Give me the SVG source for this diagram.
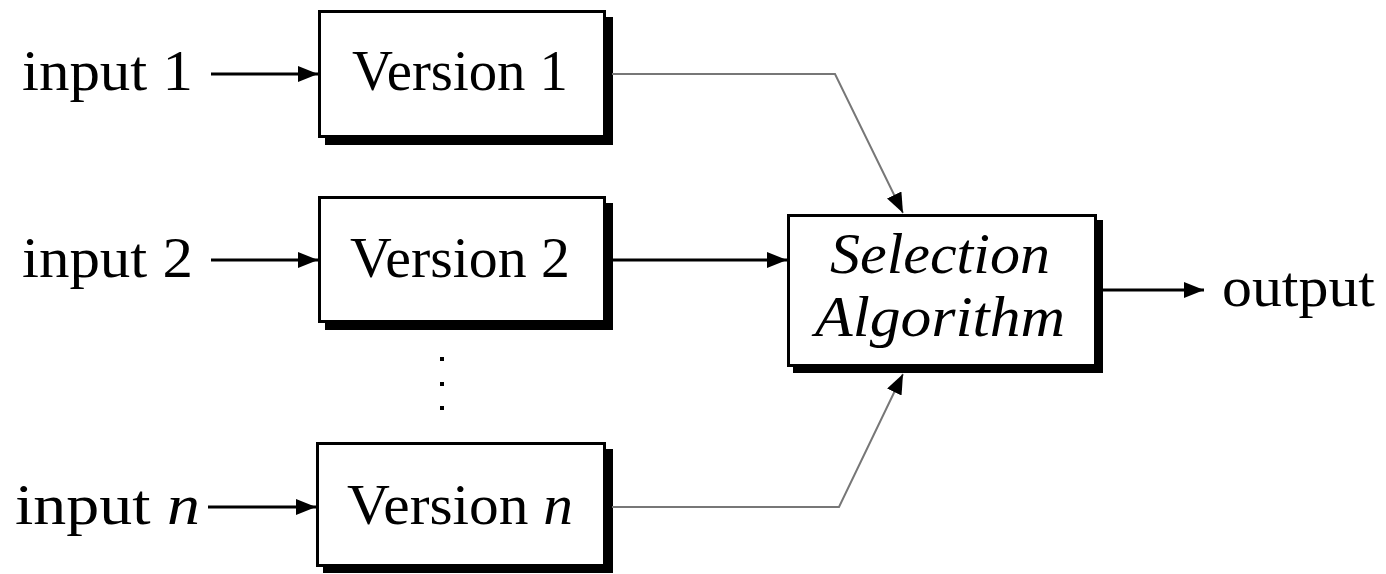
<svg xmlns="http://www.w3.org/2000/svg" width="1386" height="574" viewBox="0 0 1386 574">
  <style>
    .t { font-family: "Liberation Serif", "Times New Roman", serif; font-size: 57px; fill: #000; }
    .it { font-style: italic; }
    .box { fill: #fff; stroke: #000; stroke-width: 3; }
    .shadow { fill: #000; }
    .blk { stroke: #000; stroke-width: 3; fill: none; }
    .gry { stroke: #777; stroke-width: 2; fill: none; }
  </style>
  <defs>
    <marker id="ah" markerUnits="userSpaceOnUse" markerWidth="22" markerHeight="18" refX="20" refY="8" orient="auto">
      <path d="M0,0 L20,8 L0,16 z" fill="#000"/>
    </marker>
  </defs>
  <rect width="1386" height="574" fill="#fff"/>

  <g id="input1">
    <text class="t" x="22" y="90" textLength="171" lengthAdjust="spacingAndGlyphs">input 1</text>
  </g>
  <g id="input2">
    <text class="t" x="22" y="277" textLength="171" lengthAdjust="spacingAndGlyphs">input 2</text>
  </g>
  <g id="inputn">
    <text class="t" x="15" y="524" textLength="185" lengthAdjust="spacingAndGlyphs">input <tspan class="it">n</tspan></text>
  </g>

  <g id="version1">
    <rect class="shadow" x="325" y="17" width="288" height="128"/>
    <rect class="box" x="319.5" y="11.5" width="285" height="125"/>
    <text class="t" x="460" y="90" text-anchor="middle" textLength="216" lengthAdjust="spacingAndGlyphs">Version 1</text>
  </g>
  <g id="version2">
    <rect class="shadow" x="325" y="203" width="288" height="127"/>
    <rect class="box" x="319.5" y="197.5" width="285" height="124"/>
    <text class="t" x="460" y="277" text-anchor="middle" textLength="220" lengthAdjust="spacingAndGlyphs">Version 2</text>
  </g>
  <g id="dots">
    <rect x="440" y="357" width="4" height="4"/>
    <rect x="440" y="382" width="4" height="4"/>
    <rect x="440" y="406" width="4" height="4"/>
  </g>
  <g id="versionn">
    <rect class="shadow" x="323" y="449" width="290" height="124"/>
    <rect class="box" x="317.5" y="443.5" width="287" height="122"/>
    <text class="t" x="460" y="524" text-anchor="middle" textLength="226" lengthAdjust="spacingAndGlyphs">Version <tspan class="it">n</tspan></text>
  </g>
  <g id="selection">
    <rect class="shadow" x="793" y="220" width="310" height="153"/>
    <rect class="box" x="788.5" y="215.5" width="307" height="150"/>
    <text class="t it" x="940" y="273" text-anchor="middle" textLength="220" lengthAdjust="spacingAndGlyphs">Selection</text>
    <text class="t it" x="940" y="336" text-anchor="middle" textLength="250" lengthAdjust="spacingAndGlyphs">Algorithm</text>
  </g>
  <g id="output">
    <text class="t" x="1222" y="306" textLength="153" lengthAdjust="spacingAndGlyphs">output</text>
  </g>

  <g id="connectors">
    <line class="blk" x1="211" y1="74" x2="318" y2="74" marker-end="url(#ah)"/>
    <line class="blk" x1="211" y1="260" x2="318" y2="260" marker-end="url(#ah)"/>
    <line class="blk" x1="208" y1="507" x2="316" y2="507" marker-end="url(#ah)"/>
    <polyline class="gry" points="612,74 835,74 903,213" marker-end="url(#ah)"/>
    <line class="blk" x1="612" y1="260" x2="787" y2="260" marker-end="url(#ah)"/>
    <polyline class="gry" points="612,507 839,507 903,374" marker-end="url(#ah)"/>
    <line class="blk" x1="1103" y1="290" x2="1204" y2="290" marker-end="url(#ah)"/>
  </g>
</svg>
